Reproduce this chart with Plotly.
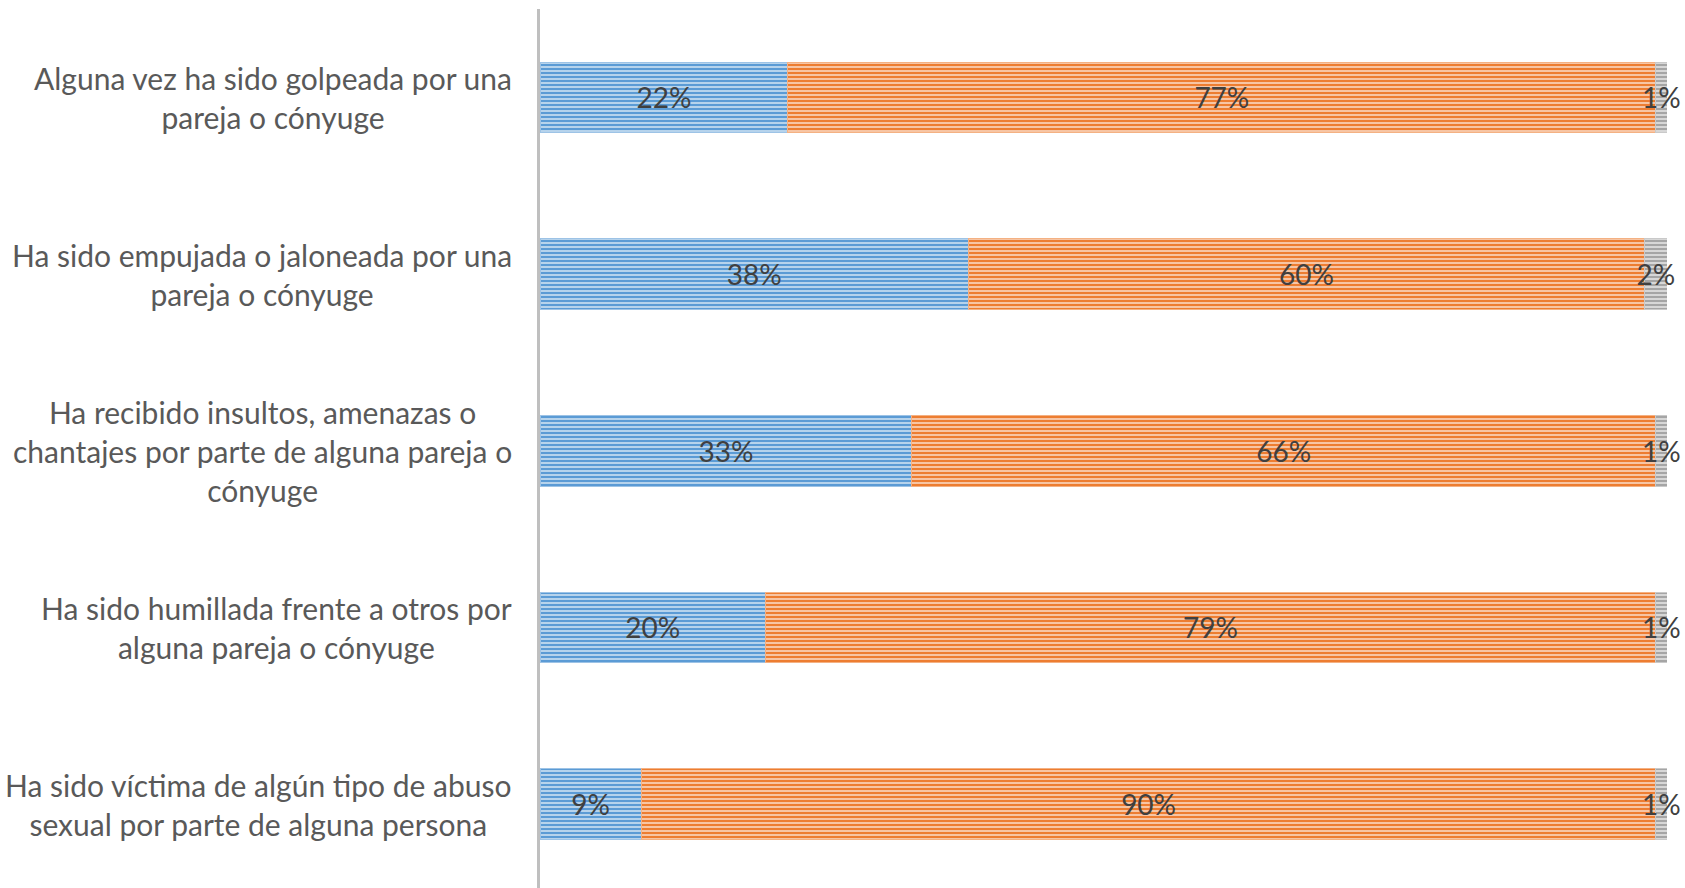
import plotly.graph_objects as go

# Categorías (de arriba hacia abajo)
categorias = [
    "Alguna vez ha sido golpeada por una<br>pareja o cónyuge",
    "Ha sido empujada o jaloneada por una<br>pareja o cónyuge",
    "Ha recibido insultos, amenazas o<br>chantajes por parte de alguna pareja o<br>cónyuge",
    "Ha sido humillada frente a otros por<br>alguna pareja o cónyuge",
    "Ha sido víctima de algún tipo de abuso<br>sexual por parte de alguna persona",
]
ids = ["c1", "c2", "c3", "c4", "c5"]

si = [22, 38, 33, 20, 9]
no = [77, 60, 66, 79, 90]
ns = [1, 2, 1, 1, 1]

series = [
    ("Sí", si, "#5B9BD5", "#9DC3E6"),
    ("No", no, "#ED7D31", "#F4B183"),
    ("NS/NC", ns, "#A5A5A5", "#C9C9C9"),
]

FONT = "Lato"

fig = go.Figure()
for nombre, valores, color, borde in series:
    fig.add_trace(go.Bar(
        y=ids,
        x=valores,
        name=nombre,
        orientation="h",
        marker=dict(
            color=color,
            line=dict(color=borde, width=1),
            pattern=dict(shape="-", fillmode="overlay", fgcolor="white",
                         fgopacity=0.7, size=4, solidity=0.4),
        ),
        text=[f"{v}%" for v in valores],
        textposition="inside",
        insidetextanchor="middle",
        textangle=0,
        constraintext="none",
        textfont=dict(family=FONT, size=28, color="#404040"),
        cliponaxis=False,
        hoverinfo="skip",
    ))

# Etiquetas de categoría centradas (como en el original)
for cid, texto in zip(ids, categorias):
    fig.add_annotation(
        x=0, xref="paper", xanchor="right", xshift=-26,
        y=cid, yref="y", yanchor="middle",
        text=texto, align="center", showarrow=False,
        font=dict(family=FONT, size=30, color="#595959"),
    )

fig.update_layout(
    barmode="stack",
    bargap=0.6,
    width=1685,
    height=888,
    margin=dict(l=540, r=18, t=9, b=0),
    paper_bgcolor="white",
    plot_bgcolor="white",
    showlegend=False,
    xaxis=dict(range=[0, 100], visible=False, fixedrange=True),
    yaxis=dict(
        type="category",
        categoryorder="array",
        categoryarray=ids,
        range=[4.475, -0.5],
        showticklabels=False,
        ticks="",
        showgrid=False,
        zeroline=False,
        showline=True,
        linecolor="#BFBFBF",
        linewidth=3,
    ),
)

# sin margen del body para que la figura ocupe toda la ventana
fig.write_html(
    "out.html",
    config={"displayModeBar": False},
    post_script="document.body.style.margin = '0';",
)
